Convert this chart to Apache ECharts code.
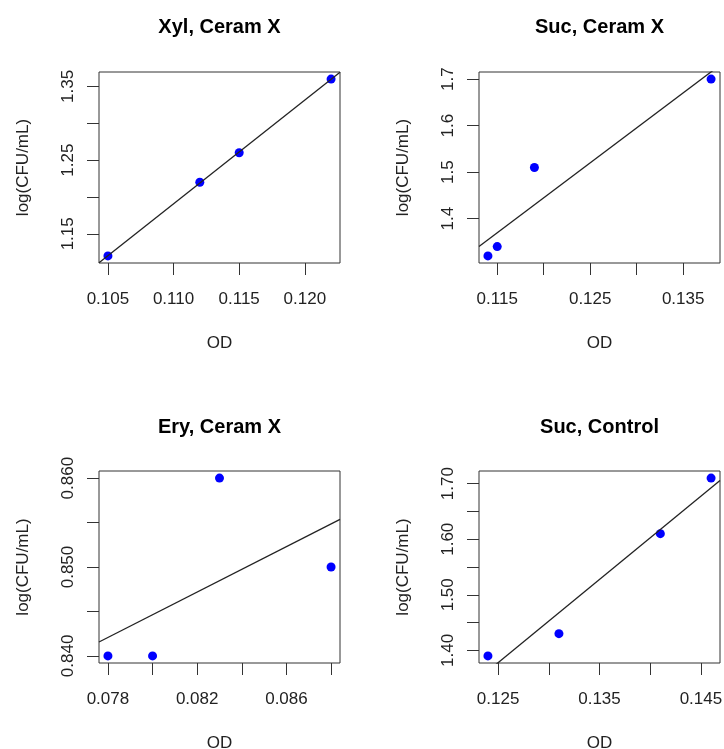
<!DOCTYPE html>
<html><head><meta charset="utf-8">
<script src="https://cdn.jsdelivr.net/npm/echarts@6/dist/echarts.min.js"></script>
<style>html,body{margin:0;padding:0;background:#fff}#c{width:724px;height:749px}</style>
</head><body><div id="c"></div>
<script>
// ---- data ----
const titles = ['Xyl, Ceram X', 'Suc, Ceram X', 'Ery, Ceram X', 'Suc, Control'];
const xylOD  = [0.105, 0.112, 0.115, 0.122];
const xylLog = [1.12, 1.22, 1.26, 1.36];
const sucOD  = [0.114, 0.115, 0.119, 0.138];
const sucLog = [1.32, 1.34, 1.51, 1.70];
const eryOD  = [0.078, 0.080, 0.083, 0.088];
const eryLog = [0.840, 0.840, 0.860, 0.850];
const ctlOD  = [0.124, 0.131, 0.141, 0.146];
const ctlLog = [1.39, 1.43, 1.61, 1.71];
// ---- ticks / labels ----
const xylXTicks = [0.105, 0.110, 0.115, 0.120];
const xylXLabels = [0.105, 0.110, 0.115, 0.120];
const xylYTicks = [1.15, 1.20, 1.25, 1.30, 1.35];
const xylYLabels = [1.15, 1.25, 1.35];
const sucXTicks = [0.115, 0.120, 0.125, 0.130, 0.135];
const sucXLabels = [0.115, 0.125, 0.135];
const sucYTicks = [1.4, 1.5, 1.6, 1.7];
const sucYLabels = [1.4, 1.5, 1.6, 1.7];
const eryXTicks = [0.078, 0.080, 0.082, 0.084, 0.086, 0.088];
const eryXLabels = [0.078, 0.082, 0.086];
const eryYTicks = [0.840, 0.845, 0.850, 0.855, 0.860];
const eryYLabels = [0.840, 0.850, 0.860];
const ctlXTicks = [0.125, 0.130, 0.135, 0.140, 0.145];
const ctlXLabels = [0.125, 0.135, 0.145];
const ctlYTicks = [1.40, 1.45, 1.50, 1.55, 1.60, 1.65, 1.70];
const ctlYLabels = [1.40, 1.50, 1.60, 1.70];
const xDec = [3, 3, 3, 3];
const yDec = [2, 1, 3, 2];

const panels = [
  {x: xylOD, y: xylLog, xt: xylXTicks, xl: xylXLabels, yt: xylYTicks, yl: xylYLabels},
  {x: sucOD, y: sucLog, xt: sucXTicks, xl: sucXLabels, yt: sucYTicks, yl: sucYLabels},
  {x: eryOD, y: eryLog, xt: eryXTicks, xl: eryXLabels, yt: eryYTicks, yl: eryYLabels},
  {x: ctlOD, y: ctlLog, xt: ctlXTicks, xl: ctlXLabels, yt: ctlYTicks, yl: ctlYLabels}
];
const gridPos = [
  {left: 99, top: 72, width: 241, height: 191},
  {left: 479, top: 72, width: 241, height: 191},
  {left: 99, top: 471, width: 241, height: 192},
  {left: 479, top: 471, width: 241, height: 192}
];

function rng(a) {
  const mn = Math.min(...a), mx = Math.max(...a), d = (mx - mn) * 0.04;
  return [mn - d, mx + d];
}
function fit(x, y) {
  const n = x.length;
  const mx = x.reduce((s, v) => s + v, 0) / n, my = y.reduce((s, v) => s + v, 0) / n;
  let sxy = 0, sxx = 0;
  for (let i = 0; i < n; i++) { sxy += (x[i] - mx) * (y[i] - my); sxx += (x[i] - mx) ** 2; }
  const b = sxy / sxx;
  return [my - b * mx, b];
}

const FONT = '"Liberation Sans", Arial, Helvetica, sans-serif';
const grid = [], xAxis = [], yAxis = [], series = [], graphic = [];
panels.forEach((p, i) => {
  const xr = rng(p.x), yr = rng(p.y);
  const g = gridPos[i];
  grid.push(Object.assign({show: true, borderColor: '#333', borderWidth: 1, containLabel: false,
    outerBoundsMode: 'none'}, g));
  xAxis.push({
    type: 'value', gridIndex: i, min: xr[0], max: xr[1],
    splitLine: {show: false}, axisLine: {show: false},
    axisTick: {show: true, inside: false, length: 12, customValues: p.xt, lineStyle: {color: '#333', width: 1}},
    axisLabel: {customValues: p.xl, margin: 28, fontSize: 17, color: '#222', fontFamily: FONT,
      formatter: v => Number(v).toFixed(xDec[i])},
    name: 'OD', nameLocation: 'middle', nameGap: 72,
    nameTextStyle: {fontSize: 17, color: '#222', fontFamily: FONT}
  });
  yAxis.push({
    type: 'value', gridIndex: i, min: yr[0], max: yr[1],
    splitLine: {show: false}, axisLine: {show: false},
    axisTick: {show: true, inside: false, length: 12, customValues: p.yt, lineStyle: {color: '#333', width: 1}},
    axisLabel: {customValues: p.yl, rotate: 90, margin: 22, fontSize: 17, color: '#222', fontFamily: FONT,
      formatter: v => Number(v).toFixed(yDec[i])},
    name: 'log(CFU/mL)', nameLocation: 'middle', nameGap: 67,
    nameTextStyle: {fontSize: 17, color: '#222', fontFamily: FONT}
  });
  const [a, b] = fit(p.x, p.y);
  series.push({
    type: 'line', xAxisIndex: i, yAxisIndex: i, clip: true, symbol: 'none', silent: true,
    lineStyle: {color: '#222', width: 1.3},
    data: [[xr[0], a + b * xr[0]], [xr[1], a + b * xr[1]]]
  });
  series.push({
    type: 'scatter', xAxisIndex: i, yAxisIndex: i, symbol: 'circle', symbolSize: 9,
    itemStyle: {color: '#0000ff', opacity: 1},
    data: p.x.map((v, k) => [v, p.y[k]])
  });
  graphic.push({
    type: 'text', x: g.left + g.width / 2, y: (i < 2 ? 27 : 427),
    style: {text: titles[i], textAlign: 'center', textVerticalAlign: 'middle',
      font: 'bold 20px ' + FONT, fill: '#000'}
  });
});

const chart = echarts.init(document.getElementById('c'), null, {renderer: 'canvas'});
chart.setOption({animation: false, backgroundColor: '#fff', grid, xAxis, yAxis, series, graphic});
</script>
</body></html>
